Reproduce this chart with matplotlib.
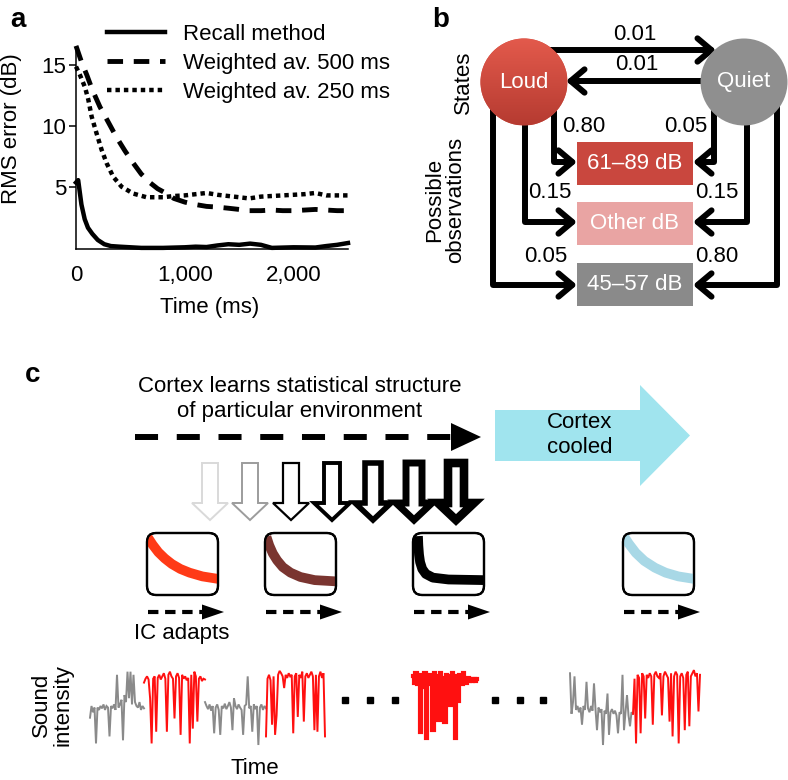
import numpy as np
import matplotlib
matplotlib.use('Agg')
import matplotlib.pyplot as plt
from matplotlib.patches import Circle, Rectangle, Polygon, FancyBboxPatch
from matplotlib.colors import LinearSegmentedColormap

plt.rcParams['font.family'] = ['Liberation Sans', 'DejaVu Sans']

# ---------------- Panel a data ----------------
t_recall = [0, 20, 50, 80, 110, 150, 200, 260, 320, 400, 500, 600, 800, 1000, 1100,
            1200, 1300, 1400, 1500, 1600, 1700, 1800, 2000, 2200, 2300, 2400, 2500]
rms_recall = [5.4, 5.6, 3.6, 2.4, 1.7, 1.2, 0.7, 0.35, 0.2, 0.15, 0.1, 0.05, 0.05, 0.1, 0.15,
              0.12, 0.25, 0.35, 0.3, 0.4, 0.3, 0.05, 0.1, 0.08, 0.2, 0.3, 0.45]
t_w500 = [0, 50, 100, 150, 220, 300, 373, 450, 526, 600, 679, 750, 832, 900, 1000, 1100,
          1200, 1290, 1400, 1500, 1590, 1700, 1800, 1900, 2000, 2100, 2200, 2300, 2400, 2500]
rms_w500 = [16.6, 15.3, 14.2, 13.0, 11.6, 10.3, 9.1, 8.0, 7.0, 6.1, 5.4, 4.9, 4.5, 4.1, 3.8, 3.6,
            3.45, 3.4, 3.3, 3.2, 3.1, 3.1, 3.15, 3.1, 3.1, 3.15, 3.2, 3.15, 3.1, 3.1]
t_w250 = [0, 37, 83, 113, 144, 190, 236, 282, 342, 419, 526, 648, 800, 900, 1000, 1100,
          1200, 1300, 1400, 1500, 1590, 1700, 1800, 1900, 2000, 2100, 2200, 2300, 2400, 2500]
rms_w250 = [14.9, 14.2, 13.2, 12.2, 10.8, 9.4, 8.07, 6.98, 5.88, 5.06, 4.5, 4.2, 4.2, 4.3, 4.35, 4.45,
            4.55, 4.4, 4.3, 4.2, 4.1, 4.25, 4.3, 4.35, 4.4, 4.45, 4.55, 4.35, 4.35, 4.35]
legend_labels = ['Recall method', 'Weighted av. 500 ms', 'Weighted av. 250 ms']
x_ticks = [0, 1000, 2000]
x_ticklabels = ['0', '1,000', '2,000']
y_ticks = [5, 10, 15]

# ---------------- Panel b data ----------------
states = ['Loud', 'Quiet']
observations = ['61\u201389 dB', 'Other dB', '45\u201357 dB']
transition_prob = ['0.01', '0.01']
emission_loud = ['0.80', '0.15', '0.05']
emission_quiet = ['0.05', '0.15', '0.80']

# ---------------- Panel c data ----------------
# adaptation curves (fraction of box width, fraction of box height from top)
curve1_x = [0.0, 0.08, 0.16, 0.25, 0.35, 0.47, 0.6, 0.78, 1.0]
curve1_y = [0.05, 0.19, 0.31, 0.41, 0.50, 0.58, 0.64, 0.70, 0.74]
curve2_x = [0.02, 0.06, 0.11, 0.17, 0.25, 0.36, 0.5, 0.7, 1.0]
curve2_y = [0.06, 0.20, 0.33, 0.44, 0.55, 0.64, 0.71, 0.76, 0.78]
curve3_x = [0.07, 0.075, 0.085, 0.10, 0.13, 0.18, 0.28, 0.5, 1.0]
curve3_y = [0.05, 0.20, 0.35, 0.47, 0.58, 0.66, 0.72, 0.75, 0.76]
curve4_x = [0.0, 0.08, 0.18, 0.30, 0.45, 0.60, 0.78, 1.0]
curve4_y = [0.03, 0.17, 0.32, 0.45, 0.56, 0.64, 0.70, 0.74]

# sound intensity traces (arbitrary units 0-100)
grey1 = [35, 50, 42, 48, 2, 48, 45, 50, 47, 52, 45, 50, 48, 11, 50, 47, 52, 45, 90, 48,
         52, 58, 6, 64, 55, 94, 60, 94, 52, 90, 55, 50, 48, 55, 45, 50, 47]
red1 = [80, 85, 88, 84, 60, 2, 85, 88, 17, 86, 90, 84, 88, 92, 85, 17, 90, 94, 88, 85,
        34, 88, 92, 86, 13, 90, 85, 88, 83, 86, 2, 90, 21, 94, 88, 30, 85, 88, 82, 85, 84]
grey2 = [55, 50, 46, 52, 44, 50, 15, 48, 52, 45, 13, 50, 47, 53, 46, 50, 55, 48, 19, 60,
         50, 46, 52, 48, 45, 13, 50, 52, 88, 47, 50, 17, 52, 46, 50, 0, 48, 52, 45, 50, 47]
red2 = [11, 85, 90, 83, 26, 88, 13, 38, 90, 95, 92, 88, 73, 90, 86, 92, 88, 90, 15, 88,
        92, 36, 90, 86, 94, 30, 88, 92, 86, 90, 94, 88, 19, 90, 17, 88, 94, 86, 92, 11]
red3 = [88, 80, 92, 78, 88, 17, 90, 75, 92, 9, 85, 90, 78, 19, 92, 80, 88, 32, 92, 78,
        86, 30, 90, 76, 88, 51, 92, 80, 9, 88, 56, 90, 78, 92, 84, 80, 86, 82, 84, 82, 85, 82, 84]
grey4 = [92, 40, 55, 88, 45, 50, 42, 48, 26, 50, 45, 81, 47, 42, 50, 44, 79, 46, 19, 48,
         42, 46, 0, 44, 40, 66, 13, 42, 46, 40, 44, 38, 15, 42, 40, 90, 19, 42, 64, 38, 24, 42, 40]
red4 = [40, 85, 2, 90, 86, 15, 92, 88, 34, 90, 86, 92, 88, 26, 90, 94, 88, 86, 92, 38,
        88, 94, 90, 86, 30, 92, 11, 88, 94, 90, 2, 88, 92, 86, 19, 90, 94, 24, 88, 92, 96, 88, 92, 43, 90]

# ---------------- Figure ----------------
W, H = 788, 780
fig = plt.figure(figsize=(W / 100, H / 100), dpi=100)
ax0 = fig.add_axes([0, 0, 1, 1])
ax0.set_xlim(0, W)
ax0.set_ylim(H, 0)
ax0.axis('off')


def px_axes(x0, y0, x1, y1):
    return fig.add_axes([x0 / W, 1 - y1 / H, (x1 - x0) / W, (y1 - y0) / H])


FS = 16

# ================= Panel a =================
axa = px_axes(76, 47.7, 348, 248.5)
axa.patch.set_alpha(0)
l1, = axa.plot(t_recall, rms_recall, color='k', lw=3.2, solid_joinstyle='round', clip_on=False)
l2, = axa.plot(t_w500, rms_w500, color='k', lw=3.5, dashes=(3.2, 2.2), clip_on=False)
l3, = axa.plot(t_w250, rms_w250, color='k', lw=3.2, dashes=(1.0, 0.9), clip_on=False)
axa.set_xlim(0, 2500)
axa.set_ylim(0, 16.45)
axa.set_xticks(x_ticks)
axa.set_xticklabels(x_ticklabels)
axa.set_yticks(y_ticks)
for s in ['top', 'right']:
    axa.spines[s].set_visible(False)
for s in ['left', 'bottom']:
    axa.spines[s].set_linewidth(1.1)
axa.tick_params(axis='y', labelsize=FS, length=5, width=1.1, pad=2)
axa.tick_params(axis='x', labelsize=FS, length=0, pad=12)
axa.legend([l1, l2, l3], legend_labels, loc='upper left', bbox_to_anchor=(107 / W, 1 - 24 / H),
           bbox_transform=fig.transFigure, frameon=False, fontsize=FS, handlelength=2.6,
           handletextpad=0.8, labelspacing=0.36, borderpad=0, borderaxespad=0)
ax0.text(12, 129, 'RMS error (dB)', rotation=90, ha='center', va='center', fontsize=FS)
ax0.text(210, 308, 'Time (ms)', ha='center', va='center', fontsize=FS)
ax0.text(10, 20, 'a', fontsize=20, fontweight='bold', ha='left', va='center')

# ================= Panel b =================
ax0.text(432, 20, 'b', fontsize=20, fontweight='bold', ha='left', va='center')
loud_c, quiet_c, R = (524, 82), (744, 82), 43.5
circ = Circle(loud_c, R, facecolor='#cf483c', edgecolor='none', zorder=3)
ax0.add_patch(circ)
grad = np.linspace(0, 1, 100).reshape(-1, 1)
im = ax0.imshow(grad, extent=(loud_c[0] - R, loud_c[0] + R, loud_c[1] + R, loud_c[1] - R),
                cmap=LinearSegmentedColormap.from_list('lg', ['#e35a4c', '#b63b31']),
                zorder=3.1, aspect='auto')
im.set_clip_path(circ)
ax0.add_patch(Circle(quiet_c, R, facecolor='#8f8f8f', edgecolor='none', zorder=3))
ax0.set_xlim(0, W)
ax0.set_ylim(H, 0)
ax0.text(loud_c[0], loud_c[1], states[0], color='white', fontsize=FS, ha='center', va='center', zorder=5)
ax0.text(quiet_c[0], quiet_c[1], states[1], color='white', fontsize=FS, ha='center', va='center', zorder=5)

ax0.text(463, 82, 'States', rotation=90, ha='center', va='center', fontsize=FS)
ax0.text(445, 200, 'Possible\nobservations', rotation=90, ha='center', va='center', fontsize=FS,
         linespacing=1.0)

box_colors = ['#c9473e', '#e9a4a3', '#8a8a8a']
box_top = [142, 202, 263]
box_h = 43
for obs, col, yt in zip(observations, box_colors, box_top):
    ax0.add_patch(Rectangle((577, yt), 116, box_h, facecolor=col, edgecolor='none', zorder=3))
    ax0.text(635, yt + box_h / 2, obs, color='white', fontsize=FS, ha='center', va='center', zorder=5)

aprops = dict(arrowstyle='->,head_length=0.5,head_width=0.42', lw=4.3, color='k',
              shrinkA=0, shrinkB=0, mutation_scale=20)
# transitions
ax0.annotate('', xy=(716, 50), xytext=(545, 50), arrowprops=aprops, zorder=2)
ax0.annotate('', xy=(566, 81), xytext=(720, 81), arrowprops=aprops, zorder=2)
ax0.text(635, 35, transition_prob[0], fontsize=FS, ha='center', va='center')
ax0.text(637, 65, transition_prob[1], fontsize=FS, ha='center', va='center')

# emissions
levels_y = [162, 222, 285]
loud_x = [554, 525, 493]
quiet_x = [714, 747, 777]
elbow = dict(aprops)
elbow['connectionstyle'] = 'angle,angleA=90,angleB=0,rad=0'
for yy, lx, qx in zip(levels_y, loud_x, quiet_x):
    ax0.annotate('', xy=(577, yy), xytext=(lx, 95), arrowprops=elbow, zorder=2)
    ax0.annotate('', xy=(693, yy), xytext=(qx, 95), arrowprops=elbow, zorder=2)
lbl_loud = [(584, 127), (550, 193), (546, 257)]
lbl_quiet = [(686, 127), (717, 193), (717, 257)]
for p, (x, y) in zip(emission_loud, lbl_loud):
    ax0.text(x, y, p, fontsize=FS, ha='center', va='center')
for p, (x, y) in zip(emission_quiet, lbl_quiet):
    ax0.text(x, y, p, fontsize=FS, ha='center', va='center')

# ================= Panel c =================
ax0.text(33, 375, 'c', fontsize=20, fontweight='bold', ha='center', va='center')
ax0.text(300, 399, 'Cortex learns statistical structure\nof particular environment',
         fontsize=FS, ha='center', va='center', linespacing=1.25)
# long dashed arrow
ax0.plot([135, 452], [437, 437], color='k', lw=4.3, dashes=(3.86, 3.13), solid_capstyle='butt',
         dash_capstyle='butt')
ax0.add_patch(Polygon([(451, 423), (481, 437), (451, 451)], closed=True, facecolor='k', edgecolor='none'))
# cooled arrow
cyan = '#a0e4ee'
ax0.add_patch(Polygon([(495, 410), (640, 410), (640, 385), (690, 435.5), (640, 486), (640, 461), (495, 461)],
                      closed=True, facecolor=cyan, edgecolor='none'))
ax0.text(580, 435, 'Cortex\ncooled', fontsize=FS, ha='center', va='center', linespacing=1.25)

# down arrows
arrow_cx = [210, 250, 291, 332, 373, 414, 456]
arrow_col = ['#d9d9d9', '#9c9c9c', 'k', 'k', 'k', 'k', 'k']
arrow_lw = [1.4, 1.4, 1.6, 2.8, 4.0, 5.0, 6.2]
for cx, col, lw in zip(arrow_cx, arrow_col, arrow_lw):
    ax0.add_patch(Polygon([(cx - 8, 463), (cx + 8, 463), (cx + 8, 503), (cx + 18, 503), (cx, 520),
                           (cx - 18, 503), (cx - 8, 503)], closed=True, facecolor='white',
                          edgecolor=col, lw=lw, joinstyle='miter'))

# thumbnails
box_x = [147, 265, 413, 623]
curves = [(curve1_x, curve1_y, '#ff3a17'), (curve2_x, curve2_y, '#7a3530'),
          (curve3_x, curve3_y, 'k'), (curve4_x, curve4_y, '#a8d8e6')]
bt, bw, bh = 533, 71, 62
for bx, (cxs, cys, col) in zip(box_x, curves):
    fb = FancyBboxPatch((bx, bt), bw, bh, boxstyle='round,pad=0,rounding_size=9',
                        facecolor='white', edgecolor='k', lw=1.6, zorder=3)
    ax0.add_patch(fb)
    ln, = ax0.plot(bx + np.array(cxs) * bw, bt + np.array(cys) * bh, color=col, lw=7,
                   solid_capstyle='butt', solid_joinstyle='round', zorder=4)
    ln.set_clip_path(fb)
    ax0.add_patch(FancyBboxPatch((bx, bt), bw, bh, boxstyle='round,pad=0,rounding_size=9',
                                 facecolor='none', edgecolor='k', lw=1.6, zorder=5))
    # small dashed arrow
    ax0.plot([bx + 1, bx + 56], [612, 612], color='k', lw=3.0, dashes=(2.5, 1.6), dash_capstyle='butt')
    ax0.add_patch(Polygon([(bx + 55, 604.5), (bx + 77, 612), (bx + 55, 619.5)], closed=True,
                          facecolor='k', edgecolor='none'))

ax0.text(182, 633, 'IC adapts', fontsize=FS, ha='center', va='center')
ax0.text(52, 705, 'Sound\nintensity', rotation=90, fontsize=FS, ha='center', va='center', linespacing=1.05)
ax0.text(255, 768, 'Time', fontsize=FS, ha='center', va='center')

# traces
axt = px_axes(0, 667, W, 745)
axt.set_xlim(0, W)
axt.set_ylim(0, 100)
axt.axis('off')
segments = [(grey1, 90, 144, '#8a8a8a', 1.4, 'default'), (red1, 144, 205, '#ff1010', 1.4, 'default'),
            (grey2, 205, 266, '#8a8a8a', 1.4, 'default'), (red2, 266, 325, '#ff1010', 1.4, 'default'),
            (red3, 413, 477, '#ff1010', 3.0, 'steps-mid'),
            (grey4, 570, 633, '#8a8a8a', 1.4, 'default'), (red4, 633, 700, '#ff1010', 1.4, 'default')]
for vals, x0, x1, col, lw, ds in segments:
    axt.plot(np.linspace(x0, x1, len(vals)), vals, color=col, lw=lw, clip_on=False,
             solid_joinstyle='miter', drawstyle=ds)
dot_x = [345, 370, 395, 495, 520, 543]
ax0.plot(dot_x, [700] * len(dot_x), 's', color='k', ms=4.5, ls='none')

fig.savefig('out.png', dpi=100)
